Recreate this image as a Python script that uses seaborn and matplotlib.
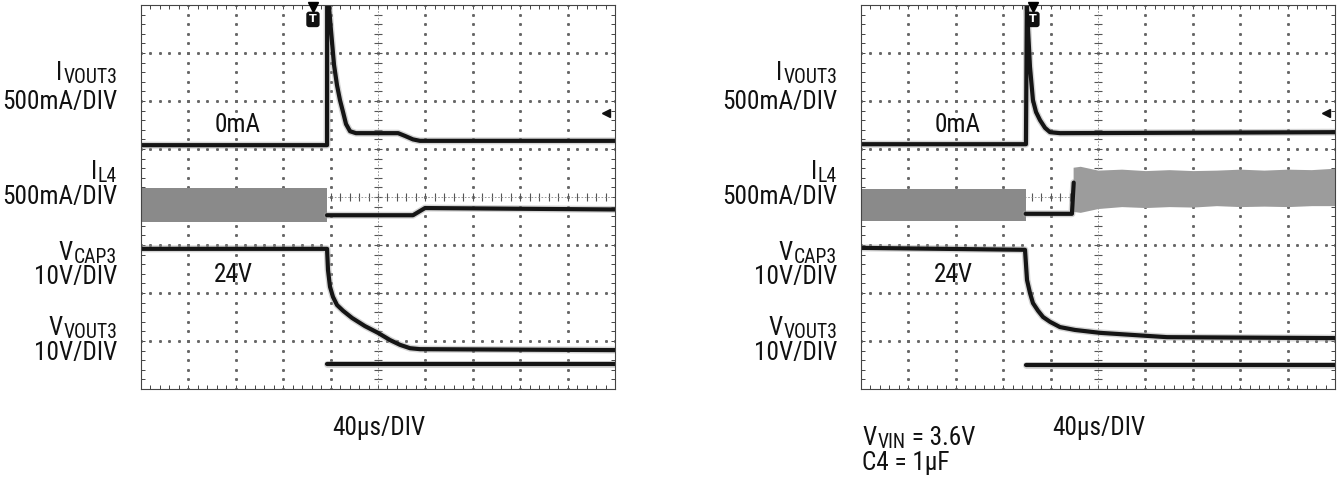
import numpy as np, pandas as pd, matplotlib
matplotlib.use("Agg")
import matplotlib.pyplot as plt
import seaborn as sns
from matplotlib import font_manager

# time in us (40us/DIV, screen spans -200..200), level in screen divisions (0..8)
# ---- left capture ----
L_IOUT_T = [-200, -43, -42.9, -41.5, -39.7, -37.1, -34.6, -32.1, -29.5, -27, -23.6, -18.6, 17, 23, 29.5, 35.4, 200]
L_IOUT_Y = [5.08, 5.08, 8.3, 8.0, 7.48, 6.75, 6.33, 6.02, 5.77, 5.52, 5.37, 5.33, 5.33, 5.27, 5.2, 5.17, 5.17]
L_IL4_BAND_T = [-200, -43]
L_IL4_BAND_LO = [3.48, 3.48]
L_IL4_BAND_HI = [4.19, 4.19]
L_IL4_T = [-43, 29.5, 39.7, 200]
L_IL4_Y = [3.62, 3.62, 3.77, 3.74]
L_VCAP_T = [-200, -43, -42.2, -40.5, -38, -34.6, -29.5, -21.9, -11, 0, 10.1, 18.6, 27, 35.4, 200]
L_VCAP_Y = [2.92, 2.92, 2.48, 2.13, 1.92, 1.75, 1.63, 1.48, 1.31, 1.17, 1.02, 0.92, 0.85, 0.83, 0.81]
L_VOUT_T = [-43, 200]
L_VOUT_Y = [0.52, 0.52]

# ---- right capture ----
R_IOUT_T = [-200, -60.8, -60, -59.9, -57.4, -54.9, -52.3, -48.9, -44.7, -40.5, -32, 200]
R_IOUT_Y = [5.1, 5.1, 8.3, 7.9, 6.71, 6.02, 5.77, 5.6, 5.44, 5.35, 5.33, 5.35]
R_IL4_BAND_T = [-200, -61]
R_IL4_BAND_LO = [3.5, 3.5]
R_IL4_BAND_HI = [4.17, 4.17]
R_IL4_T = [-61, -22, -20.5]
R_IL4_Y = [3.65, 3.65, 4.3]
R_IL4_SW_T = [-21, -15, 0, 20, 40, 60, 80, 100, 120, 140, 160, 180, 200]
R_IL4_SW_LO = [3.7, 3.68, 3.76, 3.8, 3.78, 3.8, 3.79, 3.82, 3.8, 3.81, 3.8, 3.82, 3.82]
R_IL4_SW_HI = [4.62, 4.64, 4.56, 4.58, 4.55, 4.57, 4.55, 4.56, 4.58, 4.56, 4.58, 4.57, 4.6]
R_VCAP_T = [-200, -61.6, -59.9, -57.4, -54.9, -50.6, -46.4, -40.5, -32.1, -19.4, 1.7, 58.2, 200]
R_VCAP_Y = [2.94, 2.9, 2.27, 2.0, 1.79, 1.63, 1.5, 1.4, 1.29, 1.23, 1.17, 1.08, 1.06]
R_VOUT_T = [-61, 200]
R_VOUT_Y = [0.5, 0.5]

TRIG_T = -54.9
GND_MARK = (192, 5.75)

W, H = 1337, 479
sns.set_style("white")

# pick a narrow face if one is around, else plain Liberation Sans
font_path = None
for key in ["LiberationSansNarrow-Regular", "RobotoCondensed-Regular", "DejaVuSansCondensed.ttf",
            "LiberationSans-Regular"]:
    for f in font_manager.fontManager.ttflist:
        if key in f.fname:
            font_path = f.fname
            break
    if font_path:
        break
FP = font_manager.FontProperties(fname=font_path) if font_path else font_manager.FontProperties(family="DejaVu Sans")
plt.rcParams['font.family'] = ['Liberation Sans', 'DejaVu Sans']

fig = plt.figure(figsize=(W / 100, H / 100), dpi=100)
renderer = fig.canvas.get_renderer()

# size the text so "500mA/DIV" spans ~115 px like the reference
probe = fig.text(0, 0, "500mA/DIV", fontproperties=FP, fontsize=20)
pw = probe.get_window_extent(renderer).width
probe.remove()
FS = min(20.5, 20 * 115 / pw)
SFS = FS * 0.78


def txt(x, y, s, ha="left", size=None):
    fp = FP.copy()
    fp.set_size(size or FS)
    return fig.text(x / W, 1 - y / H, s, ha=ha, va="baseline", fontproperties=fp, color="#111")


def trace(ax, t, y):
    d = pd.DataFrame({"t": t, "y": y})
    sns.lineplot(data=d, x="t", y="y", ax=ax, sort=False, estimator=None, color="#a0a0a0", lw=5, alpha=0.45)
    sns.lineplot(data=d, x="t", y="y", ax=ax, sort=False, estimator=None, color="#151515", lw=3)


def screen(ax):
    ax.set_xlim(-200, 200)
    ax.set_ylim(0, 8)
    minor_x = np.arange(-200, 201, 8)
    minor_y = np.arange(0, 8.01, 0.2)
    for gx in range(-160, 161, 40):
        if gx != 0:
            ax.plot([gx] * len(minor_y), minor_y, ls="none", marker="s", ms=1.1, color="#666", zorder=1)
    for gy in range(1, 8):
        if gy != 4:
            ax.plot(minor_x, [gy] * len(minor_x), ls="none", marker="s", ms=1.1, color="#666", zorder=1)
    ax.plot([0] * len(minor_y), minor_y, ls="none", marker="_", ms=6, mew=0.8, color="#555", zorder=1)
    ax.plot(minor_x, [4] * len(minor_x), ls="none", marker="|", ms=6, mew=0.8, color="#555", zorder=1)
    ax.axvline(0, color="#888", lw=0.6, ls=(0, (2, 2)), zorder=1)
    ax.axhline(4, color="#888", lw=0.6, ls=(0, (2, 2)), zorder=1)
    ax.set_xticks(np.arange(-200, 201, 40))
    ax.set_yticks(np.arange(0, 9, 1))
    ax.set_xticks(minor_x, minor=True)
    ax.set_yticks(minor_y, minor=True)
    ax.tick_params(which="both", direction="in", length=3, width=0.7, color="#444",
                   top=True, right=True, bottom=True, left=True,
                   labelbottom=False, labelleft=False)
    for s in ax.spines.values():
        s.set_color("#444")
        s.set_linewidth(0.8)
    ax.set_xlabel("")
    ax.set_ylabel("")


def marks(ax):
    ax.plot(TRIG_T, 7.96, marker="v", ms=7, color="k", clip_on=False, zorder=5)
    ax.text(TRIG_T, 7.7, "T", ha="center", va="center", color="w", fontsize=8, weight="bold",
            family="DejaVu Sans", bbox=dict(boxstyle="round,pad=0.25", fc="#111", ec="none"), zorder=5)
    ax.plot(*GND_MARK, marker="<", ms=6, color="#111", zorder=5)


def rlabel(x, y, main, sub=None):
    # right-aligned label, subscript a bit smaller and lower
    if sub:
        s = txt(x, y + 3, sub, ha="right", size=SFS)
        x = s.get_window_extent(renderer).x0 - 1
    txt(x, y, main, ha="right")


def llabel(x, y, parts):
    for s, is_sub in parts:
        t = txt(x, y + (3 if is_sub else 0), s, size=SFS if is_sub else FS)
        x = t.get_window_extent(renderer).x1 + 1


panels = [
    (141, L_IOUT_T, L_IOUT_Y, L_IL4_BAND_T, L_IL4_BAND_LO, L_IL4_BAND_HI, L_IL4_T, L_IL4_Y,
     L_VCAP_T, L_VCAP_Y, L_VOUT_T, L_VOUT_Y),
    (861, R_IOUT_T, R_IOUT_Y, R_IL4_BAND_T, R_IL4_BAND_LO, R_IL4_BAND_HI, R_IL4_T, R_IL4_Y,
     R_VCAP_T, R_VCAP_Y, R_VOUT_T, R_VOUT_Y),
]

for i, (x0, it, iy, bt, blo, bhi, lt, ly, vt, vy, ot, oy) in enumerate(panels):
    ax = fig.add_axes([x0 / W, (H - 389) / H, 474 / W, 384 / H])
    screen(ax)
    ax.fill_between(bt, blo, bhi, color="#8a8a8a", lw=0, zorder=2)
    if i == 1:
        ax.fill_between(R_IL4_SW_T, R_IL4_SW_LO, R_IL4_SW_HI, color="#9c9c9c", lw=0, zorder=2)
    trace(ax, it, iy)
    trace(ax, lt, ly)
    trace(ax, vt, vy)
    trace(ax, ot, oy)
    marks(ax)

    # channel labels
    lx = x0 - 24
    rlabel(lx, 80, "I", "VOUT3")
    rlabel(lx, 109, "500mA/DIV")
    rlabel(lx, 179, "I", "L4")
    rlabel(lx, 204, "500mA/DIV")
    rlabel(lx, 260, "V", "CAP3")
    rlabel(lx, 284, "10V/DIV")
    rlabel(lx, 335, "V", "VOUT3")
    rlabel(lx, 360, "10V/DIV")
    txt(x0 + 74, 132, "0mA")
    txt(x0 + 73, 282, "24V")
    txt(x0 + 238, 435, "40µs/DIV", ha="center")

llabel(862, 445, [("V", False), ("VIN", True), (" = 3.6V", False)])
txt(862, 470, "C4 = 1µF")

fig.savefig("out.png", dpi=100)
plt.close()
